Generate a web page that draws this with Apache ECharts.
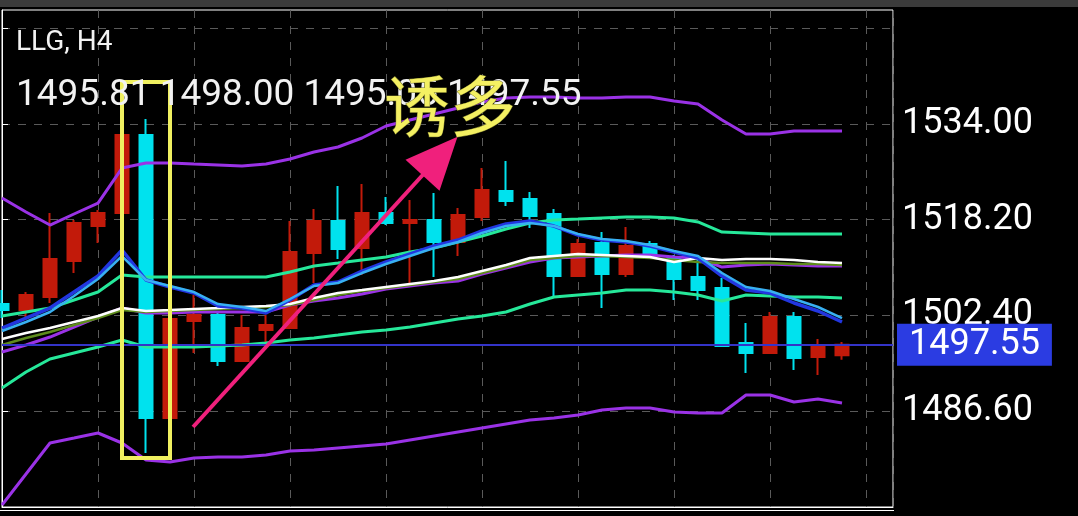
<!DOCTYPE html>
<html><head><meta charset="utf-8">
<script src="https://cdn.jsdelivr.net/npm/echarts@6/dist/echarts.min.js"></script>
<style>html,body{margin:0;padding:0;background:#000;}#c{width:1078px;height:516px;}</style>
</head><body><div id="c"></div>
<script>
const symbolName = 'LLG, H4';
const annotationText = '诱多';
// candles (H4), index 0..35
const opens  = [1504.27,1503.28,1505.43,1511.37,1517.15,1519.30,1532.18,1485.45,1501.47,1502.46,1494.87,1499.98,1500.31,1512.70,1517.98,1513.52,1519.30,1517.65,1518.15,1514.51,1518.64,1522.93,1521.61,1519.14,1508.90,1514.35,1509.23,1514.18,1511.87,1508.73,1506.92,1497.83,1496.18,1502.13,1495.52,1495.81];
const closes = [1503.28,1505.76,1511.70,1517.65,1519.30,1532.18,1485.45,1501.80,1502.46,1494.87,1500.31,1500.80,1512.86,1517.98,1513.36,1519.30,1517.65,1518.15,1514.51,1518.97,1523.10,1521.28,1518.81,1508.90,1514.18,1509.23,1513.85,1512.20,1508.40,1506.58,1497.33,1496.18,1502.13,1495.35,1497.33,1497.55];
const lows   = [1501.96,1501.96,1504.44,1509.39,1514.35,1519.30,1479.67,1485.45,1496.18,1494.04,1494.87,1497.83,1500.31,1507.74,1511.70,1509.06,1517.32,1507.74,1508.73,1512.20,1517.98,1520.46,1516.82,1505.43,1508.73,1503.61,1508.73,1511.70,1504.93,1504.93,1497.33,1492.88,1496.18,1493.37,1492.55,1495.05];
const highs  = [1506.58,1506.25,1519.30,1518.15,1519.80,1532.35,1534.83,1501.96,1505.76,1502.79,1502.46,1502.46,1517.98,1519.96,1523.76,1524.09,1521.94,1521.45,1522.60,1520.13,1526.73,1527.89,1522.77,1519.96,1515.01,1516.16,1516.99,1514.68,1512.37,1512.37,1508.57,1501.14,1502.95,1502.95,1498.49,1498.00];
// indicator lines
const bbUpper = [1521.78,1519.47,1517.32,1519.14,1520.95,1526.73,1527.56,1527.56,1527.39,1527.23,1527.06,1527.39,1528.22,1529.38,1530.20,1531.69,1533.67,1534.66,1535.65,1536.64,1537.63,1538.29,1538.46,1538.46,1538.29,1538.29,1538.46,1538.46,1537.80,1537.30,1534.66,1532.35,1532.35,1532.84,1532.84,1532.84];
const bbMid   = [1496.34,1497.50,1498.82,1500.47,1502.13,1503.61,1502.79,1502.79,1502.95,1502.95,1502.95,1502.95,1504.11,1504.77,1505.26,1505.92,1506.75,1507.25,1507.74,1508.07,1509.23,1510.22,1511.21,1511.87,1512.03,1512.20,1512.37,1512.37,1512.03,1511.87,1510.38,1510.71,1510.88,1510.71,1510.55,1510.55];
const bbLower = [1471.08,1476.20,1481.32,1482.14,1482.97,1481.32,1478.51,1478.18,1478.84,1479.00,1479.00,1479.34,1480.00,1480.16,1480.49,1480.82,1481.15,1481.81,1482.47,1483.13,1483.79,1484.46,1485.12,1485.45,1485.94,1486.77,1487.10,1487.10,1486.44,1486.27,1486.27,1489.24,1489.24,1488.09,1488.58,1487.92];
const envUpper = [1502.29,1502.95,1503.61,1504.93,1506.25,1509.06,1508.73,1508.73,1508.73,1508.73,1508.73,1508.73,1509.56,1510.55,1511.04,1511.54,1512.03,1512.86,1513.52,1514.51,1515.50,1516.66,1517.65,1518.15,1518.31,1518.48,1518.64,1518.64,1518.48,1517.82,1516.16,1516.00,1515.83,1515.83,1515.83,1515.83];
const envLower = [1490.40,1493.04,1495.19,1496.18,1497.17,1498.33,1497.17,1497.17,1497.17,1497.33,1497.50,1497.83,1498.33,1498.66,1499.15,1499.65,1499.98,1500.47,1501.14,1501.80,1502.29,1502.95,1504.27,1505.43,1505.76,1506.09,1506.58,1506.58,1506.25,1505.76,1504.77,1505.76,1505.59,1505.43,1505.43,1505.26];
const maBlue = [1500.31,1501.96,1503.61,1506.25,1508.90,1513.19,1508.24,1507.08,1506.09,1503.94,1503.61,1502.79,1504.93,1507.41,1507.91,1509.72,1511.21,1512.53,1513.85,1514.84,1516.33,1517.49,1517.98,1517.15,1515.67,1514.84,1514.51,1513.85,1512.86,1511.87,1508.90,1506.58,1506.09,1504.44,1503.12,1501.30];
const maLightBlue = [1499.81,1501.30,1502.95,1505.59,1508.40,1512.20,1508.24,1507.25,1506.25,1504.27,1503.78,1503.12,1505.10,1507.25,1507.74,1509.39,1510.88,1512.20,1513.52,1514.51,1516.00,1517.15,1517.65,1517.15,1515.83,1515.01,1514.68,1514.02,1513.03,1512.20,1509.39,1507.08,1506.42,1505.10,1503.78,1501.96];
const maWhite = [1498.49,1499.48,1500.31,1501.30,1502.29,1503.61,1503.12,1503.28,1503.45,1503.61,1503.78,1503.94,1504.27,1505.26,1506.09,1506.58,1507.08,1507.58,1508.07,1508.73,1509.72,1510.71,1511.87,1512.20,1512.53,1512.37,1512.20,1512.03,1511.21,1511.87,1511.54,1511.70,1511.70,1511.54,1511.21,1511.04];
const maOlive = [1497.50,1498.66,1499.65,1500.80,1501.96,1503.28,1502.95,1503.12,1503.28,1503.45,1503.61,1503.78,1504.11,1504.93,1505.76,1506.42,1506.92,1507.41,1507.91,1508.40,1509.39,1510.38,1511.54,1511.87,1512.20,1512.20,1512.03,1511.87,1511.54,1511.21,1511.04,1511.04,1511.04,1510.88,1510.88,1510.71];
const lastPrice = 1497.55;
const yTickValues  = [1486.6, 1502.4, 1518.2, 1534.0, 1549.8];
const yLabelValues = [1486.6, 1502.4, 1518.2, 1534.0];
// annotation anchors in data space: [candle index, price]
const boxFrom = [5, 1540.94], boxTo = [7, 1478.84];
const arrowFrom = [7.96, 1483.96], arrowTo = [18.25, 1528.72];

const FONT = 'Roboto, "Noto Sans", sans-serif';
const UP = '#c21a0a', DOWN = '#00e2ee';
const n = opens.length;
const last = n - 1;
const candleData = opens.map((o, i) => [i, o, closes[i], lows[i], highs[i]]);
const toXY = arr => arr.map((v, i) => [i, v]);
const headerText = [opens[last], highs[last], lows[last], closes[last]].map(v => v.toFixed(2)).join(' ');

function lineSeries(name, arr, color, width, extra) {
  return Object.assign({
    name, type: 'line', data: toXY(arr), showSymbol: false, symbol: 'none',
    lineStyle: { color, width }, silent: true, animation: false, z: 3
  }, extra || {});
}

const chart = echarts.init(document.getElementById('c'), null, { renderer: 'canvas' });
chart.setOption({
  backgroundColor: '#000',
  animation: false,
  grid: { show: true, left: 2, top: 10, right: 185, bottom: 9, borderColor: '#ffffff', borderWidth: 1, backgroundColor: 'transparent' },
  xAxis: {
    type: 'value', min: 0, max: 37.125, interval: 4,
    axisLine: { show: true, lineStyle: { color: '#ffffff', width: 1 } },
    axisTick: { show: false }, axisLabel: { show: false },
    splitLine: { show: true, lineStyle: { color: '#5a5a5a', type: [8, 8], width: 1 } }
  },
  yAxis: {
    type: 'value', position: 'right', min: 1470.75, max: 1552.83, scale: true,
    axisLine: { show: true, lineStyle: { color: '#ffffff', width: 1 } },
    axisTick: { show: true, inside: false, length: 6, customValues: yTickValues, lineStyle: { color: '#ffffff' } },
    axisLabel: { show: true, customValues: yLabelValues, margin: 9, color: '#ffffff', fontSize: 36, fontFamily: FONT,
      formatter: v => Number(v).toFixed(2) },
    splitLine: { show: true, lineStyle: { color: '#5a5a5a', type: [8, 8], width: 1 } }
  },
  series: [
    lineSeries('BB upper', bbUpper, '#9a32e6', 3),
    lineSeries('BB lower', bbLower, '#9a32e6', 3),
    lineSeries('Env upper', envUpper, '#26e89a', 3),
    lineSeries('Env lower', envLower, '#26e89a', 3),
    {
      name: 'LLG', type: 'candlestick', data: candleData, encode: { x: 0, y: [1, 2, 3, 4] },
      barWidth: 14, silent: true, z: 2,
      itemStyle: { color: UP, color0: DOWN, borderColor: UP, borderColor0: DOWN, borderWidth: 2 },
      markLine: {
        silent: true, symbol: 'none', animation: false,
        data: [{ yAxis: lastPrice }],
        lineStyle: { color: '#3434c8', width: 2, type: 'solid' },
        label: { show: true, position: 'end', distance: 4, formatter: lastPrice.toFixed(2), color: '#ffffff',
          backgroundColor: '#2b3ce2', fontSize: 36, fontFamily: FONT, padding: [3, 12, 3, 12] }
      },
      markArea: {
        silent: true, z: 10, animation: false,
        label: { show: false },
        itemStyle: { color: 'rgba(0,0,0,0)', borderColor: '#f0f060', borderWidth: 4 },
        data: [[{ coord: boxFrom }, { coord: boxTo }]]
      }
    },
    lineSeries('BB mid', bbMid, '#9a32e6', 3),
    lineSeries('MA olive', maOlive, '#5e8c1c', 2.5),
    lineSeries('MA white', maWhite, '#ffffff', 2.5),
    lineSeries('MA blue', maBlue, '#2236e0', 3.5),
    lineSeries('MA light blue', maLightBlue, '#38b0f2', 2.5, {
      markLine: {
        silent: true, animation: false, z: 20,
        symbol: ['none', 'triangle'], symbolSize: [46, 52],
        lineStyle: { color: '#f0207c', width: 4, type: 'solid' },
        itemStyle: { color: '#f0207c' },
        label: { show: false },
        data: [[{ coord: arrowFrom }, { coord: arrowTo }]]
      }
    })
  ],
  graphic: [
    { type: 'rect', left: 0, top: 0, shape: { width: 1078, height: 7 }, style: { fill: '#3b3b3b' }, silent: true },
    { type: 'line', shape: { x1: 0, y1: 510.5, x2: 894, y2: 510.5 }, style: { stroke: '#ffffff', lineWidth: 1 }, silent: true },
    { type: 'text', x: 16, y: 43, z: 50, style: { text: symbolName, fill: '#f2f2f2', font: '28px ' + FONT, textVerticalAlign: 'middle' }, silent: true },
    { type: 'text', x: 16, y: 96, z: 50, style: { text: headerText, fill: '#f2f2f2', font: '37px ' + FONT, textVerticalAlign: 'middle' }, silent: true },
    { type: 'text', x: 384, y: 106, z: 100, style: { text: annotationText, fill: '#f4f062', stroke: '#6e6e28', lineWidth: 1,
      font: '66px "Noto Sans CJK SC", sans-serif', textVerticalAlign: 'middle' }, silent: true }
  ]
});
</script></body></html>
